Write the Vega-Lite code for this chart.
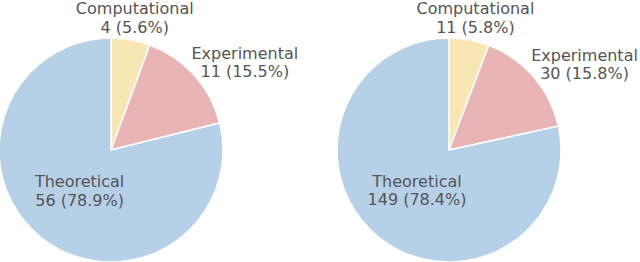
{
  "$schema": "https://vega.github.io/schema/vega-lite/v6.json",
  "padding": {"left": -4, "top": 1, "right": 0, "bottom": 0},
  "background": "white",
  "bounds": "flush",
  "spacing": 114,
  "config": {"view": {"stroke": null}},
  "datasets": {
    "left": [
      {"category": "Computational", "count": 4, "pct": "5.6%"},
      {"category": "Experimental", "count": 11, "pct": "15.5%"},
      {"category": "Theoretical", "count": 56, "pct": "78.9%"}
    ],
    "right": [
      {"category": "Computational", "count": 11, "pct": "5.8%"},
      {"category": "Experimental", "count": 30, "pct": "15.8%"},
      {"category": "Theoretical", "count": 149, "pct": "78.4%"}
    ]
  },
  "hconcat": [
    {
      "width": 224, "height": 224,
      "data": {"name": "left"},
      "transform": [{"calculate": "[datum.category, datum.count + ' (' + datum.pct + ')']", "as": "label"}],
      "encoding": {"theta": {"field": "count", "type": "quantitative", "stack": true}},
      "layer": [
        {"mark": {"type": "arc", "stroke": "white", "strokeWidth": 1.5},
         "encoding": {"color": {"field": "category", "type": "nominal", "legend": null,
           "scale": {"domain": ["Computational", "Experimental", "Theoretical"], "range": ["#f8e6b5", "#e8b4b6", "#b6d0e7"]}}}},
        {"mark": {"type": "text", "radius": 135, "dy": -8, "fontSize": 16, "font": "DejaVu Sans", "color": "#555555", "lineHeight": 18.5, "align": "center", "baseline": "middle"},
         "encoding": {"detail": {"field": "category"}, "text": {"condition": {"test": "datum.category === 'Computational'", "field": "label"}, "value": ""}}},
        {"mark": {"type": "text", "radius": 134, "dx": 34, "dy": -7, "fontSize": 16, "font": "DejaVu Sans", "color": "#555555", "lineHeight": 18.5, "align": "center", "baseline": "middle"},
         "encoding": {"detail": {"field": "category"}, "text": {"condition": {"test": "datum.category === 'Experimental'", "field": "label"}, "value": ""}}},
        {"mark": {"type": "text", "radius": 51, "dy": -8, "fontSize": 16, "font": "DejaVu Sans", "color": "#555555", "lineHeight": 18.5, "align": "center", "baseline": "middle"},
         "encoding": {"detail": {"field": "category"}, "text": {"condition": {"test": "datum.category === 'Theoretical'", "field": "label"}, "value": ""}}}
      ]
    },
    {
      "width": 224, "height": 224,
      "data": {"name": "right"},
      "transform": [{"calculate": "[datum.category, datum.count + ' (' + datum.pct + ')']", "as": "label"}],
      "encoding": {"theta": {"field": "count", "type": "quantitative", "stack": true}},
      "layer": [
        {"mark": {"type": "arc", "stroke": "white", "strokeWidth": 1.5},
         "encoding": {"color": {"field": "category", "type": "nominal", "legend": null,
           "scale": {"domain": ["Computational", "Experimental", "Theoretical"], "range": ["#f8e6b5", "#e8b4b6", "#b6d0e7"]}}}},
        {"mark": {"type": "text", "radius": 135, "dx": 2, "dy": -8, "fontSize": 16, "font": "DejaVu Sans", "color": "#555555", "lineHeight": 18.5, "align": "center", "baseline": "middle"},
         "encoding": {"detail": {"field": "category"}, "text": {"condition": {"test": "datum.category === 'Computational'", "field": "label"}, "value": ""}}},
        {"mark": {"type": "text", "radius": 134, "dx": 34, "dy": -7, "fontSize": 16, "font": "DejaVu Sans", "color": "#555555", "lineHeight": 18.5, "align": "center", "baseline": "middle"},
         "encoding": {"detail": {"field": "category"}, "text": {"condition": {"test": "datum.category === 'Experimental'", "field": "label"}, "value": ""}}},
        {"mark": {"type": "text", "radius": 51, "dy": -8, "fontSize": 16, "font": "DejaVu Sans", "color": "#555555", "lineHeight": 18.5, "align": "center", "baseline": "middle"},
         "encoding": {"detail": {"field": "category"}, "text": {"condition": {"test": "datum.category === 'Theoretical'", "field": "label"}, "value": ""}}}
      ]
    }
  ]
}
